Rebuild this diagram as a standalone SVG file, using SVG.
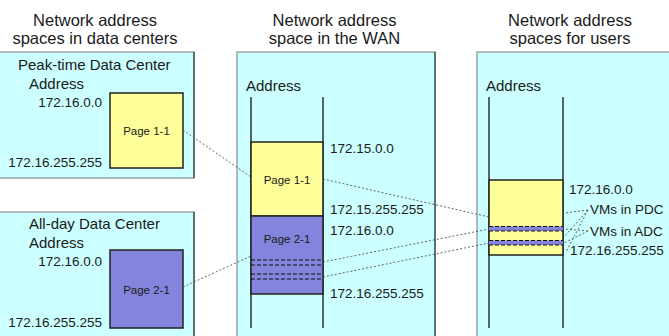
<svg xmlns="http://www.w3.org/2000/svg" width="669" height="336" viewBox="0 0 669 336">
<style>
text{font-family:"Liberation Sans",Arial,sans-serif;fill:#1a1a1a}
.title{font-size:16.5px;text-anchor:middle}
.lbl{font-size:15px}
.addr{font-size:13.5px}
.page{font-size:11.5px;text-anchor:middle}
.panel{fill:#ccffff;stroke:#9aa4a4;stroke-width:1.5}
.edge{stroke:#3e5a5a;stroke-width:1.5}
.yel{fill:#ffff99;stroke:#222;stroke-width:1.5}
.pur{fill:#8484dc;stroke:#222;stroke-width:1.5}
.axis{stroke:#111;stroke-width:1.3}
.dash{stroke:#111;stroke-width:1.2;stroke-dasharray:4 2}
.conn{stroke:#555;stroke-width:0.9;stroke-dasharray:2 2;fill:none}
</style>

<g id="titles">
<text class="title" x="95" y="25.5">Network address</text>
<text class="title" x="95" y="43.5">spaces in data centers</text>
<text class="title" x="334.5" y="25.5">Network address</text>
<text class="title" x="334.5" y="43.5">space in the WAN</text>
<text class="title" x="570" y="25.5">Network address</text>
<text class="title" x="570" y="43.5">spaces for users</text>
</g>

<g id="pdc-panel">
<rect class="panel" x="-2" y="52" width="196" height="126"/>
<line class="edge" x1="194" y1="52" x2="194" y2="178"/>
<text class="lbl" x="18" y="70">Peak-time Data Center</text>
<text class="lbl" x="29" y="88.5">Address</text>
<text class="addr" x="102" y="106.5" text-anchor="end">172.16.0.0</text>
<text class="addr" x="102" y="167" text-anchor="end">172.16.255.255</text>
</g>
<g id="pdc-page">
<rect class="yel" x="110" y="93" width="73" height="75"/>
<text class="page" x="146.5" y="135">Page 1-1</text>
</g>

<g id="adc-panel">
<rect class="panel" x="-2" y="212" width="196" height="140"/>
<line class="edge" x1="194" y1="212" x2="194" y2="340"/>
<text class="lbl" x="29" y="229">All-day Data Center</text>
<text class="lbl" x="29" y="248">Address</text>
<text class="addr" x="102" y="266" text-anchor="end">172.16.0.0</text>
<text class="addr" x="102" y="327" text-anchor="end">172.16.255.255</text>
</g>
<g id="adc-page">
<rect class="pur" x="110" y="250" width="73" height="78"/>
<text class="page" x="146.5" y="294">Page 2-1</text>
</g>

<g id="wan-panel">
<rect class="panel" x="237" y="52" width="198" height="300"/>
<line class="edge" x1="435" y1="52" x2="435" y2="340"/>
<text class="lbl" x="246" y="91">Address</text>
<line class="axis" x1="251" y1="97" x2="251" y2="328"/>
<line class="axis" x1="323" y1="97" x2="323" y2="328"/>
<text class="addr" x="330" y="153">172.15.0.0</text>
<text class="addr" x="330" y="214">172.15.255.255</text>
<text class="addr" x="330" y="235">172.16.0.0</text>
<text class="addr" x="330" y="298">172.16.255.255</text>
</g>
<g id="wan-page1">
<rect class="yel" x="251" y="142" width="72" height="74"/>
<text class="page" x="287" y="184">Page 1-1</text>
</g>
<g id="wan-page2">
<rect class="pur" x="251" y="216" width="72" height="78"/>
<text class="page" x="287" y="243">Page 2-1</text>
<line class="dash" x1="251" y1="260" x2="323" y2="260"/>
<line class="dash" x1="251" y1="265" x2="323" y2="265"/>
<line class="dash" x1="251" y1="274" x2="323" y2="274"/>
<line class="dash" x1="251" y1="279" x2="323" y2="279"/>
</g>

<g id="user-panel">
<rect class="panel" x="477" y="52" width="200" height="300"/>
<text class="lbl" x="486" y="91">Address</text>
<line class="axis" x1="489" y1="97" x2="489" y2="328"/>
<line class="axis" x1="563" y1="97" x2="563" y2="328"/>
<text class="addr" x="569" y="194">172.16.0.0</text>
<text class="addr" x="570" y="255">172.16.255.255</text>
<text class="addr" x="590" y="214">VMs in PDC</text>
<text class="addr" x="590" y="236">VMs in ADC</text>
</g>
<g id="user-block">
<rect class="yel" x="489" y="180" width="74" height="75"/>
<rect x="489" y="226.5" width="74" height="4.5" fill="#8484dc"/>
<rect x="489" y="240.5" width="74" height="4.5" fill="#8484dc"/>
<line class="dash" x1="489" y1="226.5" x2="563" y2="226.5"/>
<line class="dash" x1="489" y1="231" x2="563" y2="231"/>
<line class="dash" x1="489" y1="240.5" x2="563" y2="240.5"/>
<line class="dash" x1="489" y1="245" x2="563" y2="245"/>
</g>

<g id="connectors">
<line class="conn" x1="183" y1="130" x2="251" y2="177"/>
<line class="conn" x1="183" y1="287" x2="251" y2="256"/>
<line class="conn" x1="323" y1="179" x2="489" y2="217"/>
<line class="conn" x1="323" y1="262" x2="489" y2="229"/>
<line class="conn" x1="323" y1="277" x2="489" y2="243"/>
<line class="conn" x1="588" y1="210" x2="564" y2="213"/>
<line class="conn" x1="588" y1="210" x2="564" y2="237"/>
<line class="conn" x1="588" y1="210" x2="566" y2="252"/>
<line class="conn" x1="588" y1="231" x2="564" y2="229"/>
<line class="conn" x1="588" y1="231" x2="564" y2="243"/>
</g>
</svg>
